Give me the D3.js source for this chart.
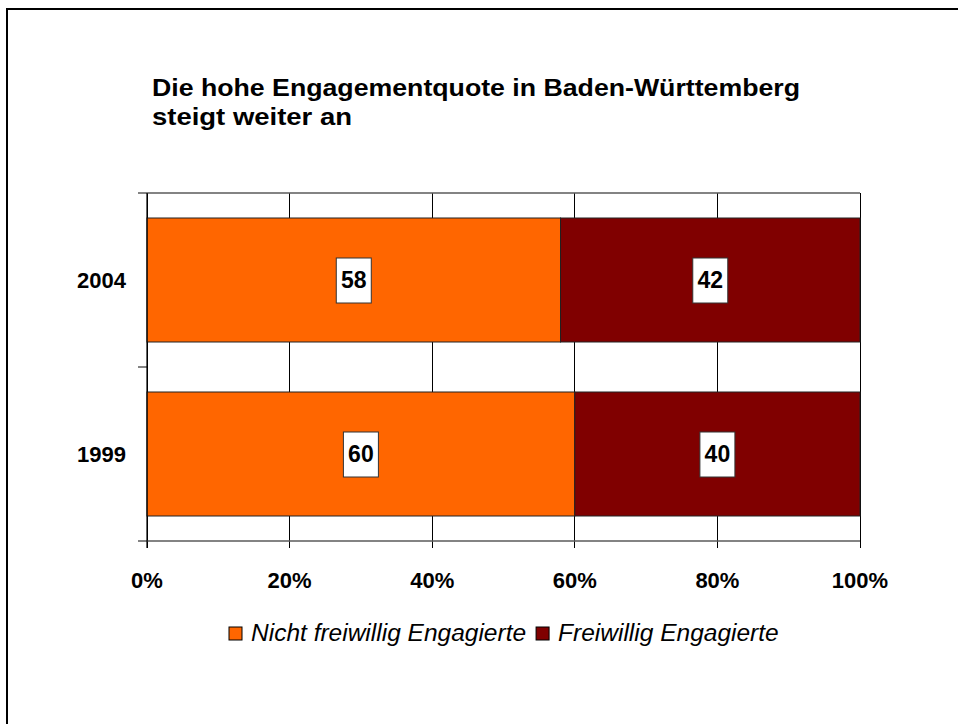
<!DOCTYPE html>
<html>
<head>
<meta charset="utf-8">
<script src="https://cdn.jsdelivr.net/npm/d3@7"></script>
<style>
  body { margin: 0; background: #fff; }
  text { font-family: Arial, "Liberation Sans", sans-serif; }
</style>
</head>
<body>
<div id="chart"></div>
<script>
const years = ["2004", "1999"];
const nichtEngagiert = [58, 60];
const freiwilligEngagiert = [42, 40];
const seriesNames = ["Nicht freiwillig Engagierte", "Freiwillig Engagierte"];
const seriesColors = ["#ff6600", "#800000"];
const xTicks = [0, 20, 40, 60, 80, 100];

const W = 958, H = 724;
const plot = {left: 147, right: 860, top: 193, bottom: 541};

const svg = d3.select("#chart")
    .append("svg")
        .attr("width", W)
        .attr("height", H);

// outer frame (runs off the right and bottom edge)
svg.append("rect")
    .attr("x", 7).attr("y", 9)
    .attr("width", 1000).attr("height", 1000)
    .attr("fill", "none")
    .attr("stroke", "#000")
    .attr("stroke-width", 2);

// title
const title = svg.append("g")
    .style("font-weight", "bold")
    .style("font-size", "24px");
title.append("text").attr("x", 152).attr("y", 96)
    .attr("textLength", 648).attr("lengthAdjust", "spacingAndGlyphs")
    .text("Die hohe Engagementquote in Baden-Württemberg");
title.append("text").attr("x", 152).attr("y", 125)
    .attr("textLength", 200).attr("lengthAdjust", "spacingAndGlyphs")
    .text("steigt weiter an");

const x = d3.scaleLinear()
    .domain([0, 100])
    .range([plot.left, plot.right]);

const y = d3.scaleBand()
    .domain(years)
    .range([plot.top, plot.bottom])
    .paddingInner(0.2874)
    .paddingOuter(0.1437);

// vertical grid lines (also the small ticks under the axis)
svg.append("g")
    .selectAll("line")
    .data(xTicks)
    .join("line")
        .attr("x1", d => x(d)).attr("x2", d => x(d))
        .attr("y1", plot.top).attr("y2", plot.bottom + 7)
        .attr("stroke", "#000")
        .attr("stroke-width", 1)
        .attr("shape-rendering", "crispEdges");

// horizontal border lines top and bottom
svg.append("g")
    .selectAll("line")
    .data([plot.top, plot.bottom])
    .join("line")
        .attr("x1", plot.left - 9).attr("x2", plot.right)
        .attr("y1", d => d).attr("y2", d => d)
        .attr("stroke", "#5a5a5a")
        .attr("stroke-width", 1.5);

// category separator tick
const step = y.step();
svg.append("line")
    .attr("x1", plot.left - 9).attr("x2", plot.left)
    .attr("y1", plot.top + step).attr("y2", plot.top + step)
    .attr("stroke", "#5a5a5a")
    .attr("stroke-width", 1.5);

// stacked bars
const table = years.map((yr, i) => ({year: yr, nicht: nichtEngagiert[i], frei: freiwilligEngagiert[i]}));
const stack = d3.stack().keys(["nicht", "frei"])(table);

const layers = svg.append("g")
    .selectAll("g")
    .data(stack)
    .join("g")
        .attr("fill", (d, i) => seriesColors[i]);

layers.selectAll("rect")
    .data(d => d)
    .join("rect")
        .attr("x", d => x(d[0]))
        .attr("y", d => y(d.data.year))
        .attr("width", d => x(d[1]) - x(d[0]))
        .attr("height", y.bandwidth())
        .attr("stroke", "#222")
        .attr("stroke-width", 1);

// value labels in white boxes
const labels = layers.selectAll("g.lab")
    .data((d, i) => d.map(v => ({v: v, key: d.key})))
    .join("g")
        .attr("class", "lab")
        .attr("transform", d => `translate(${x((d.v[0] + d.v[1]) / 2)},${y(d.v.data.year) + y.bandwidth() / 2})`);
labels.append("rect")
    .attr("x", -17.5).attr("y", -22)
    .attr("width", 35).attr("height", 45)
    .attr("fill", "#fff")
    .attr("stroke", "#333")
    .attr("stroke-width", 1);
labels.append("text")
    .attr("text-anchor", "middle")
    .attr("dy", "0.36em")
    .attr("fill", "#000")
    .style("font-weight", "bold")
    .style("font-size", "23px")
    .text(d => d.v.data[d.key]);

// left axis line
svg.append("line")
    .attr("x1", plot.left).attr("x2", plot.left)
    .attr("y1", plot.top).attr("y2", plot.bottom + 7)
    .attr("stroke", "#000")
    .attr("stroke-width", 1.2);

// year labels
svg.append("g")
    .selectAll("text")
    .data(years)
    .join("text")
        .attr("x", 126)
        .attr("y", d => y(d) + y.bandwidth() / 2)
        .attr("dy", "0.36em")
        .attr("text-anchor", "end")
        .style("font-weight", "bold")
        .style("font-size", "22px")
        .text(d => d);

// x tick labels
svg.append("g")
    .selectAll("text")
    .data(xTicks)
    .join("text")
        .attr("x", d => x(d))
        .attr("y", 588)
        .attr("text-anchor", "middle")
        .style("font-weight", "bold")
        .style("font-size", "22px")
        .text(d => d + "%");

// legend
const legend = svg.append("g");
let lx = 229;
seriesNames.forEach((name, i) => {
    legend.append("rect")
        .attr("x", lx).attr("y", 627)
        .attr("width", 13).attr("height", 13)
        .attr("fill", seriesColors[i])
        .attr("stroke", "#000")
        .attr("stroke-width", 1);
    const t = legend.append("text")
        .attr("x", lx + 22).attr("y", 641)
        .style("font-style", "italic")
        .style("font-size", "24.5px")
        .text(name);
    lx += 22 + t.node().getComputedTextLength() + 10;
});
</script>
</body>
</html>
